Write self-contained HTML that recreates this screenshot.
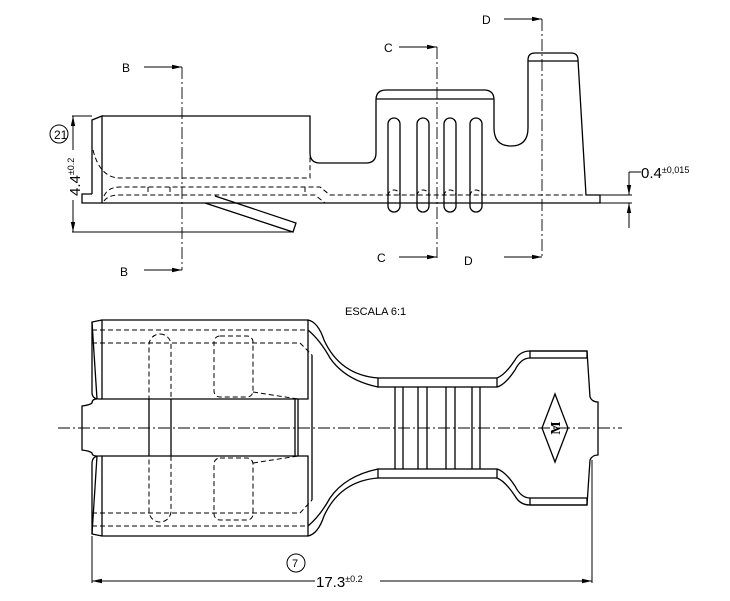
<!DOCTYPE html>
<html><head><meta charset="utf-8"><style>
html,body{margin:0;padding:0;background:#fff}
svg{display:block}
text{font-family:"Liberation Sans",sans-serif;fill:#000}
</style></head><body>
<svg width="730" height="601" viewBox="0 0 730 601" xmlns="http://www.w3.org/2000/svg">
<defs>
<marker id="ar" markerWidth="10" markerHeight="6" refX="10" refY="3" orient="auto" markerUnits="userSpaceOnUse"><path d="M0,0.8 L10,3 L0,5.2z" fill="#000"/></marker>
</defs>
<g fill="none" stroke="#000" stroke-width="1.3">
<!-- TOP VIEW -->
<path d="M102,116 H310 V153 Q310,163 320,163 H366 Q376,163 376,153 V100 Q376,90 386,90 H484 Q494,90 494,100 V128 Q494,146 511,146 Q528,146 528,128 V60 Q528,53 535,53 H571 Q578,53 578,60 L586,195 H600 V203 H82 V194 H92"/>
<path d="M92,194 V120 L102,116 V203"/>
<line x1="376" y1="99" x2="494" y2="99"/>
<line x1="528" y1="61" x2="578" y2="61"/>
<path d="M205,203 L293,232 L296,223 L215,196"/>
<!-- ribs -->
<path d="M388,206 V124 a6,6 0 0 1 12,0 V206 a6,6 0 0 1 -12,0"/>
<path d="M417,206 V124 a6,6 0 0 1 12,0 V206 a6,6 0 0 1 -12,0"/>
<path d="M444,206 V124 a6,6 0 0 1 12,0 V206 a6,6 0 0 1 -12,0"/>
<path d="M470,206 V124 a6,6 0 0 1 12,0 V206 a6,6 0 0 1 -12,0"/>
</g>
<g fill="none" stroke="#000" stroke-width="1" stroke-dasharray="5,3">
<path d="M93,150 Q100,178 120,178 H310 V116"/>
<path d="M104,196 Q108,187 120,187 H320 L330,195 H586"/>
<path d="M104,201 Q108,195 120,195 H315 L325,203"/>
<path d="M148,187 V195 M170,187 V195 M305,187 V195"/>
<path d="M388,196 a6,6 0 0 1 12,0 M417,196 a6,6 0 0 1 12,0 M444,196 a6,6 0 0 1 12,0 M470,196 a6,6 0 0 1 12,0"/>
</g>
<!-- section lines -->
<g fill="none" stroke="#000" stroke-width="0.9" stroke-dasharray="12,3,2,3">
<line x1="182" y1="67" x2="182" y2="270"/>
<line x1="437" y1="47" x2="437" y2="258"/>
<line x1="542" y1="19" x2="542" y2="257"/>
<line x1="58" y1="428" x2="622" y2="428"/>
</g>
<g stroke="#000" stroke-width="1" fill="none">
<line x1="144" y1="67" x2="182" y2="67" marker-end="url(#ar)"/>
<line x1="144" y1="270" x2="182" y2="270" marker-end="url(#ar)"/>
<line x1="399" y1="47" x2="437" y2="47" marker-end="url(#ar)"/>
<line x1="399" y1="257" x2="437" y2="257" marker-end="url(#ar)"/>
<line x1="504" y1="19" x2="542" y2="19" marker-end="url(#ar)"/>
<line x1="504" y1="257" x2="542" y2="257" marker-end="url(#ar)"/>
<!-- 4.4 dim -->
<line x1="72" y1="116" x2="92" y2="116"/>
<line x1="72" y1="232" x2="293" y2="232"/>
<line x1="73" y1="150" x2="73" y2="116" marker-end="url(#ar)"/>
<line x1="73" y1="200" x2="73" y2="232" marker-end="url(#ar)"/>
<circle cx="59" cy="134" r="9"/>
<!-- 0.4 dim -->
<line x1="600" y1="195" x2="632" y2="195"/>
<line x1="600" y1="203" x2="632" y2="203"/>
<line x1="629" y1="172" x2="629" y2="195" marker-end="url(#ar)"/>
<line x1="629" y1="228" x2="629" y2="203" marker-end="url(#ar)"/>
<line x1="629" y1="172" x2="641" y2="172"/>
</g>
<text x="122" y="72" font-size="12">B</text>
<text x="120" y="276" font-size="12">B</text>
<text x="384" y="52" font-size="12">C</text>
<text x="377" y="262" font-size="12">C</text>
<text x="482" y="24" font-size="12">D</text>
<text x="464" y="265" font-size="12">D</text>
<text x="54" y="139" font-size="12">21</text>
<text transform="translate(80,196) rotate(-90)" font-size="15">4.4<tspan font-size="9" dy="-6">±0.2</tspan></text>
<text x="641" y="178" font-size="15">0.4<tspan font-size="9" dy="-5">±0,015</tspan></text>
<text x="345" y="315" font-size="11">ESCALA 6:1</text>

<!-- BOTTOM VIEW -->
<g fill="none" stroke="#000" stroke-width="1.3">
<path d="M102,320 H308 V399 H102 Z"/>
<path d="M102,456 H308 V536 H102 Z"/>
<path d="M102,320 L92,322 V392 Q92,399 99,399 H102"/>
<path d="M102,536 L92,534 V464 Q92,456 99,456 H102"/>
<line x1="92" y1="322" x2="97" y2="399"/><line x1="92" y1="534" x2="97" y2="456"/>
<path d="M97,399 Q92,399 92,403 Q90,405 82,406 V450 Q90,451 92,453 Q92,456 97,456"/>
<line x1="295" y1="399" x2="295" y2="456"/><line x1="298" y1="399" x2="298" y2="456"/>
<line x1="312" y1="355" x2="312" y2="500"/>
<line x1="149" y1="399" x2="149" y2="456"/><line x1="171" y1="399" x2="171" y2="456"/>
<!-- flare to crimp -->
<path d="M308,320 Q318,322 324,340 Q340,375 378,378"/>
<path d="M308,330 Q320,340 330,358 Q345,380 378,387"/>
<path d="M308,536 Q318,534 324,516 Q340,481 378,478"/>
<path d="M308,526 Q320,516 330,498 Q345,476 378,469"/>
<rect x="378" y="378" width="119" height="9"/>
<rect x="378" y="469" width="119" height="9"/>
<path d="M395,387V469 M403,387V469 M418,387V469 M427,387V469 M446,387V469 M455,387V469 M472,387V469 M480,387V469"/>
<path d="M497,378 Q505,375 515,360 Q520,351 530,351 H587 L590,397 Q592,402 598,402 V455 Q592,455 590,460 L587,505 H530 Q520,505 515,496 Q505,481 497,478"/>
<path d="M497,387 Q505,385 515,370 Q521,358 530,358 M497,469 Q505,471 515,486 Q521,498 530,498"/>
<rect x="530" y="351" width="57" height="7"/>
<rect x="530" y="498" width="57" height="7"/>
<path d="M555,394 L568,428 L555,462 L542,428 Z"/>
</g>
<g fill="none" stroke="#000" stroke-width="1" stroke-dasharray="5,3">
<line x1="92" y1="330" x2="308" y2="330"/>
<line x1="92" y1="343" x2="300" y2="343"/>
<path d="M300,343 L312,355"/>
<line x1="92" y1="526" x2="308" y2="526"/>
<line x1="92" y1="513" x2="300" y2="513"/>
<path d="M300,513 L312,500"/>
<rect x="149" y="334" width="22" height="188" rx="11"/>
<rect x="214" y="336" width="39" height="61" rx="6"/>
<rect x="214" y="458" width="39" height="62" rx="6"/>
<path d="M253,392 L298,399 M253,463 L298,456"/>
</g>
<text transform="translate(555,428) rotate(-90)" font-family="Liberation Serif" font-size="14" font-weight="bold" text-anchor="middle" dy="5" style="font-family:'Liberation Serif',serif">M</text>
<g stroke="#000" stroke-width="1" fill="none">
<line x1="92" y1="536" x2="92" y2="583"/>
<line x1="592" y1="460" x2="592" y2="583"/>
<line x1="315" y1="581" x2="92" y2="581" marker-end="url(#ar)"/>
<line x1="380" y1="581" x2="592" y2="581" marker-end="url(#ar)"/>
<circle cx="296" cy="563" r="9"/>
</g>
<text x="292" y="567" font-size="11">7</text>
<text x="316" y="587" font-size="15">17.3<tspan font-size="9" dy="-5">±0.2</tspan></text>
</svg>
</body></html>
